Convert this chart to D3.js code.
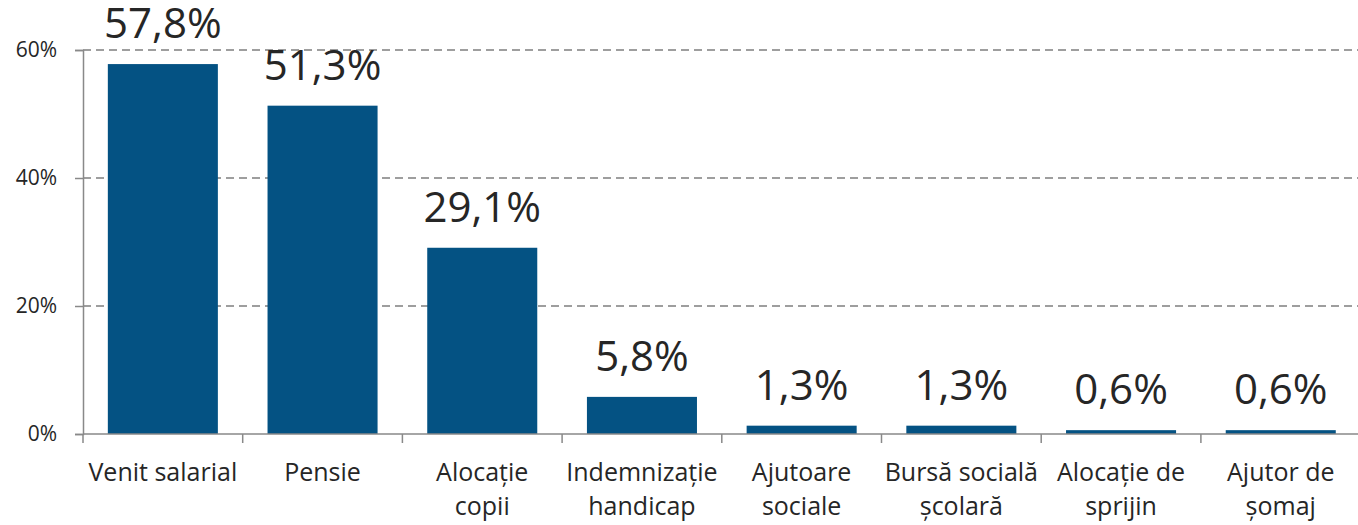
<!DOCTYPE html>
<html>
<head>
<meta charset="utf-8">
<script src="https://cdn.jsdelivr.net/npm/d3@7"></script>
<style>
  body { margin: 0; background: #fff; }
  text { font-family: "Open Sans", "Noto Sans", sans-serif; fill: #262626; }
</style>
</head>
<body>
<div id="chart"></div>
<script>
"use strict";

var categories = [
    ["Venit salarial"],
    ["Pensie"],
    ["Alocație", "copii"],
    ["Indemnizație", "handicap"],
    ["Ajutoare", "sociale"],
    ["Bursă socială", "școlară"],
    ["Alocație de", "sprijin"],
    ["Ajutor de", "șomaj"]
];
var values = [57.8, 51.3, 29.1, 5.8, 1.3, 1.3, 0.6, 0.6];
var yTicks = [0, 20, 40, 60];

var width = 1358, height = 525;
var x0 = 83, plotW = 8 * 159.7, yZero = 434, yTop = 50;

var svg = d3.select("#chart").append("svg")
    .attr("width", width)
    .attr("height", height);

var x = d3.scaleBand()
    .domain(d3.range(categories.length))
    .range([x0, x0 + plotW])
    .paddingInner(0.311)
    .paddingOuter(0.1555);

var y = d3.scaleLinear()
    .domain([0, 60])
    .range([yZero, yTop]);

// dashed gridlines
svg.append("g")
    .selectAll("line")
    .data(yTicks.filter(function (d) { return d > 0; }))
    .enter().append("line")
    .attr("x1", x0).attr("x2", width)
    .attr("y1", function (d) { return y(d); })
    .attr("y2", function (d) { return y(d); })
    .attr("stroke", "#7f7f7f")
    .attr("stroke-width", 1.5)
    .attr("stroke-dasharray", "8,5");

// bars
svg.append("g")
    .selectAll("rect")
    .data(values)
    .enter().append("rect")
    .attr("x", function (d, i) { return x(i); })
    .attr("y", function (d) { return y(d); })
    .attr("width", x.bandwidth())
    .attr("height", function (d) { return yZero - y(d); })
    .attr("fill", "#045283");

// value labels
svg.append("g")
    .selectAll("text")
    .data(values)
    .enter().append("text")
    .attr("x", function (d, i) { return x(i) + x.bandwidth() / 2; })
    .attr("y", function (d) { return y(d) - 26; })
    .attr("text-anchor", "middle")
    .style("font-size", "42px")
    .text(function (d) { return d3.format(".1f")(d).replace(".", ",") + "%"; });

// y axis
var yAxis = d3.axisLeft(y)
    .tickValues(yTicks)
    .tickSize(8)
    .tickFormat(function (d) { return d + "%"; });

var gy = svg.append("g")
    .attr("transform", "translate(" + x0 + ",0)")
    .call(yAxis);
gy.select(".domain").attr("stroke", "#898989").attr("stroke-width", 1.5);
gy.selectAll(".tick line").attr("stroke", "#898989").attr("stroke-width", 1.5);
gy.selectAll(".tick text")
    .attr("x", -26)
    .style("font-size", "21px")
    .style("fill", "#262626");

// x axis line and ticks between bands
svg.append("line")
    .attr("x1", x0).attr("x2", x0 + plotW)
    .attr("y1", yZero).attr("y2", yZero)
    .attr("stroke", "#898989").attr("stroke-width", 1.5);

svg.append("g")
    .selectAll("line")
    .data(d3.range(categories.length + 1))
    .enter().append("line")
    .attr("x1", function (d) { return x0 + d * x.step(); })
    .attr("x2", function (d) { return x0 + d * x.step(); })
    .attr("y1", yZero).attr("y2", yZero + 9)
    .attr("stroke", "#898989").attr("stroke-width", 1.5);

// category labels
var cat = svg.append("g")
    .selectAll("text")
    .data(categories)
    .enter().append("text")
    .attr("text-anchor", "middle")
    .attr("x", function (d, i) { return x(i) + x.bandwidth() / 2; })
    .attr("y", 481)
    .style("font-size", "25px");

cat.selectAll("tspan")
    .data(function (d) { return d; })
    .enter().append("tspan")
    .attr("x", function () { return d3.select(this.parentNode).attr("x"); })
    .attr("dy", function (d, i) { return i === 0 ? 0 : 34; })
    .text(function (d) { return d; });
</script>
</body>
</html>
